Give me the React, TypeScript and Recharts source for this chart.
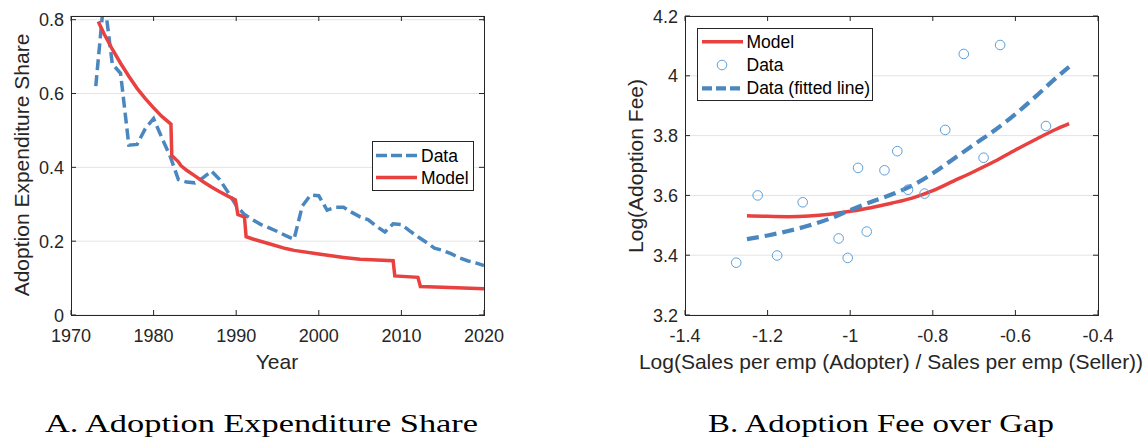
import React from "react";
import { ComposedChart, Line, Scatter, XAxis, YAxis, CartesianGrid } from "recharts";

// ---------- Panel A data ----------
const dataYears = [1973, 1974, 1975, 1976, 1977, 1978, 1979, 1980, 1981, 1982, 1983, 1984, 1985, 1986, 1987, 1988, 1989, 1990, 1991, 1992, 1993, 1994, 1995, 1996, 1997, 1998, 1999, 2000, 2001, 2002, 2003, 2004, 2005, 2006, 2007, 2008, 2009, 2010, 2011, 2012, 2013, 2014, 2015, 2016, 2017, 2018, 2019, 2020];
const dataShare = [0.62, 0.86, 0.68, 0.655, 0.46, 0.462, 0.505, 0.532, 0.48, 0.43, 0.367, 0.36, 0.358, 0.372, 0.39, 0.367, 0.333, 0.297, 0.272, 0.258, 0.245, 0.236, 0.226, 0.215, 0.205, 0.295, 0.325, 0.323, 0.284, 0.292, 0.292, 0.278, 0.266, 0.258, 0.24, 0.225, 0.247, 0.245, 0.228, 0.212, 0.197, 0.181, 0.175, 0.166, 0.155, 0.147, 0.141, 0.134];

const modelYears = [1973.3, 1974, 1975, 1976, 1977, 1978, 1979, 1980, 1981, 1982.1, 1982.2, 1983, 1983.3, 1984, 1985, 1986, 1987, 1988, 1989, 1989.9, 1990.2, 1991.0, 1991.2, 1992, 1994, 1996, 1997, 2000, 2003, 2005, 2009, 2009.2, 2012, 2012.3, 2015, 2020];
const modelShare = [0.795, 0.762, 0.72, 0.682, 0.647, 0.614, 0.586, 0.561, 0.538, 0.517, 0.432, 0.415, 0.405, 0.392, 0.377, 0.361, 0.347, 0.334, 0.322, 0.312, 0.272, 0.265, 0.212, 0.206, 0.193, 0.18, 0.175, 0.165, 0.156, 0.151, 0.147, 0.106, 0.102, 0.077, 0.075, 0.071];

const yearTicks = [1970, 1980, 1990, 2000, 2010, 2020];
const shareTicks = [0, 0.2, 0.4, 0.6, 0.8];
const shareTickLabels = ["0", "0.2", "0.4", "0.6", "0.8"];

// ---------- Panel B data ----------
const gapPoints = [-1.276, -1.224, -1.177, -1.115, -1.028, -1.006, -0.981, -0.96, -0.917, -0.886, -0.86, -0.82, -0.77, -0.725, -0.677, -0.637, -0.526];
const feePoints = [3.375, 3.6, 3.399, 3.577, 3.456, 3.391, 3.692, 3.479, 3.684, 3.748, 3.619, 3.606, 3.819, 4.073, 3.726, 4.103, 3.832];

const curveGap = [-1.25, -1.2, -1.15, -1.1, -1.05, -1.0, -0.95, -0.9, -0.85, -0.8, -0.75, -0.7, -0.65, -0.6, -0.55, -0.5, -0.47];
const modelFee = [3.532, 3.53, 3.529, 3.531, 3.537, 3.547, 3.559, 3.574, 3.591, 3.616, 3.648, 3.68, 3.714, 3.752, 3.788, 3.822, 3.84];
const fittedFee = [3.454, 3.466, 3.481, 3.499, 3.522, 3.551, 3.578, 3.603, 3.633, 3.674, 3.722, 3.77, 3.818, 3.872, 3.932, 3.995, 4.03];

const gapTicks = [-1.4, -1.2, -1.0, -0.8, -0.6, -0.4];
const gapTickLabels = ["-1.4", "-1.2", "-1", "-0.8", "-0.6", "-0.4"];
const feeTicks = [3.2, 3.4, 3.6, 3.8, 4.0, 4.2];
const feeTickLabels = ["3.2", "3.4", "3.6", "3.8", "4", "4.2"];

// ---------- tables ----------
const dataA = dataYears.map((x, i) => ({ x, y: dataShare[i] }));
const modelA = modelYears.map((x, i) => ({ x, y: modelShare[i] }));
const pointsB = gapPoints.map((x, i) => ({ x, y: feePoints[i] }));
const modelB = curveGap.map((x, i) => ({ x, y: modelFee[i] }));
const fittedB = curveGap.map((x, i) => ({ x, y: fittedFee[i] }));

// ---------- style ----------
const RED = "#E8413F";
const BLUE = "#4A87BF";
const CIRCLE = "#5E9FD8";
const AX = "#262626";
const TXT = "#262626";
const GRID = "#E4E4E4";
const SANS = "'Liberation Sans', Arial, Helvetica, sans-serif";
const SERIF = "'Liberation Serif', 'Times New Roman', serif";
const TICK = 5;

type Box = { left: number; right: number; top: number; bottom: number };
const BOX_A: Box = { left: 71, right: 484, top: 16, bottom: 315 };
const BOX_B: Box = { left: 125, right: 538, top: 16, bottom: 315 };
const OFF_B = 560;

function makeXTick(box: Box, ticks: number[], labels: string[]) {
  return (props: any) => {
    const { x, payload } = props;
    const idx = ticks.findIndex((t) => Math.abs(t - payload.value) < 1e-9);
    const label = idx >= 0 ? labels[idx] : String(payload.value);
    return (
      <g>
        <line x1={x} x2={x} y1={box.bottom} y2={box.bottom - TICK} stroke={AX} strokeWidth={1} />
        <line x1={x} x2={x} y1={box.top} y2={box.top + TICK} stroke={AX} strokeWidth={1} />
        <text x={x} y={box.bottom + 26.5} textAnchor="middle" fontSize={18} fontFamily={SANS} fill={TXT}>
          {label}
        </text>
      </g>
    );
  };
}

function makeYTick(box: Box, ticks: number[], labels: string[]) {
  return (props: any) => {
    const { y, payload } = props;
    const idx = ticks.findIndex((t) => Math.abs(t - payload.value) < 1e-9);
    const label = idx >= 0 ? labels[idx] : String(payload.value);
    return (
      <g>
        <line x1={box.left} x2={box.left + TICK} y1={y} y2={y} stroke={AX} strokeWidth={1} />
        <line x1={box.right} x2={box.right - TICK} y1={y} y2={y} stroke={AX} strokeWidth={1} />
        <text x={box.left - 7} y={y + 6.5} textAnchor="end" fontSize={18} fontFamily={SANS} fill={TXT}>
          {label}
        </text>
      </g>
    );
  };
}

export default function App() {
  return (
    <div style={{ position: "absolute", left: 0, top: 0, width: 1148, height: 439, background: "#fff", overflow: "hidden" }}>
      <div style={{ position: "absolute", left: 0, top: 0 }}>
        <ComposedChart width={530} height={380} margin={{ top: 16, right: 46, bottom: 35, left: 0 }}>
          <CartesianGrid horizontal vertical={false} stroke={GRID} strokeWidth={1} />
          <XAxis
            dataKey="x"
            type="number"
            domain={[1970, 2020]}
            ticks={yearTicks}
            allowDataOverflow
            height={30}
            axisLine={false}
            tickLine={false}
            tick={makeXTick(BOX_A, yearTicks, yearTicks.map(String))}
            interval={0}
          />
          <YAxis
            type="number"
            domain={[0, 0.81]}
            ticks={shareTicks}
            allowDataOverflow
            width={71}
            axisLine={false}
            tickLine={false}
            tick={makeYTick(BOX_A, shareTicks, shareTickLabels)}
            interval={0}
          />
          <Line data={dataA} dataKey="y" type="linear" stroke={BLUE} strokeWidth={3.5} strokeDasharray="11 5" dot={false} isAnimationActive={false} />
          <Line data={modelA} dataKey="y" type="linear" stroke={RED} strokeWidth={3.5} dot={false} isAnimationActive={false} />
        </ComposedChart>
      </div>
      <div style={{ position: "absolute", left: OFF_B, top: 0 }}>
        <ComposedChart width={580} height={380} margin={{ top: 16, right: 42, bottom: 35, left: 0 }}>
          <CartesianGrid horizontal vertical={false} stroke={GRID} strokeWidth={1} />
          <XAxis
            dataKey="x"
            type="number"
            domain={[-1.4, -0.4]}
            ticks={gapTicks}
            allowDataOverflow
            height={30}
            axisLine={false}
            tickLine={false}
            tick={makeXTick(BOX_B, gapTicks, gapTickLabels)}
            interval={0}
          />
          <YAxis
            type="number"
            domain={[3.2, 4.2]}
            ticks={feeTicks}
            allowDataOverflow
            width={125}
            axisLine={false}
            tickLine={false}
            tick={makeYTick(BOX_B, feeTicks, feeTickLabels)}
            interval={0}
          />
          <Line data={modelB} dataKey="y" type="monotone" stroke={RED} strokeWidth={3.5} dot={false} isAnimationActive={false} />
          <Scatter
            data={pointsB}
            dataKey="y"
            isAnimationActive={false}
            shape={(p: any) => <circle cx={p.cx} cy={p.cy} r={4.8} fill="none" stroke={CIRCLE} strokeWidth={1} />}
          />
          <Line data={fittedB} dataKey="y" type="monotone" stroke={BLUE} strokeWidth={4.2} strokeDasharray="12 6" dot={false} isAnimationActive={false} />
        </ComposedChart>
      </div>
      <svg width={1148} height={439} style={{ position: "absolute", left: 0, top: 0, pointerEvents: "none" }}>
        {/* Box A */}
        <rect x={71.5} y={16.5} width={413} height={299} fill="none" stroke={AX} strokeWidth={1} />
        {/* Box B */}
        <rect x={685.5} y={16.5} width={413} height={299} fill="none" stroke={AX} strokeWidth={1} />

        {/* Axis titles A */}
        <text x={277} y={369} textAnchor="middle" fontSize={21} fontFamily={SANS} fill={TXT}>Year</text>
        <text transform="translate(28.5,165) rotate(-90)" textAnchor="middle" fontSize={21} fontFamily={SANS} fill={TXT}>
          Adoption Expenditure Share
        </text>
        {/* Axis titles B */}
        <text x={891} y={369} textAnchor="middle" fontSize={21} fontFamily={SANS} fill={TXT}>
          Log(Sales per emp (Adopter) / Sales per emp (Seller))
        </text>
        <text transform="translate(643,166) rotate(-90)" textAnchor="middle" fontSize={21} fontFamily={SANS} fill={TXT}>
          Log(Adoption Fee)
        </text>

        {/* Legend A */}
        <rect x={372.5} y={141.5} width={101} height={49} fill="#fff" stroke={AX} strokeWidth={1} />
        <line x1={376} x2={417} y1={155.5} y2={155.5} stroke={BLUE} strokeWidth={3.5} strokeDasharray="11 4" />
        <text x={421} y={161.5} fontSize={17.5} fontFamily={SANS} fill="#000">Data</text>
        <line x1={376} x2={417} y1={177.5} y2={177.5} stroke={RED} strokeWidth={3.5} />
        <text x={421} y={183.5} fontSize={17.5} fontFamily={SANS} fill="#000">Model</text>

        {/* Legend B */}
        <rect x={697.5} y={28.5} width={175} height={72} fill="#fff" stroke={AX} strokeWidth={1} />
        <line x1={702} x2={743} y1={41.7} y2={41.7} stroke={RED} strokeWidth={3.5} />
        <text x={746.5} y={47.7} fontSize={17.5} fontFamily={SANS} fill="#000">Model</text>
        <circle cx={722} cy={65} r={4.8} fill="none" stroke={CIRCLE} strokeWidth={1} />
        <text x={746.5} y={71} fontSize={17.5} fontFamily={SANS} fill="#000">Data</text>
        <line x1={702} x2={743} y1={88.4} y2={88.4} stroke={BLUE} strokeWidth={4.2} strokeDasharray="10 4" />
        <text x={746.5} y={94.4} fontSize={17.5} fontFamily={SANS} fill="#000">Data (fitted line)</text>

        {/* Captions */}
        <text x={45} y={432} fontSize={25} fontFamily={SERIF} fill="#000" textLength={433} lengthAdjust="spacingAndGlyphs">
          A. Adoption Expenditure Share
        </text>
        <text x={708} y={432} fontSize={25} fontFamily={SERIF} fill="#000" textLength={346} lengthAdjust="spacingAndGlyphs">
          B. Adoption Fee over Gap
        </text>
      </svg>
    </div>
  );
}
